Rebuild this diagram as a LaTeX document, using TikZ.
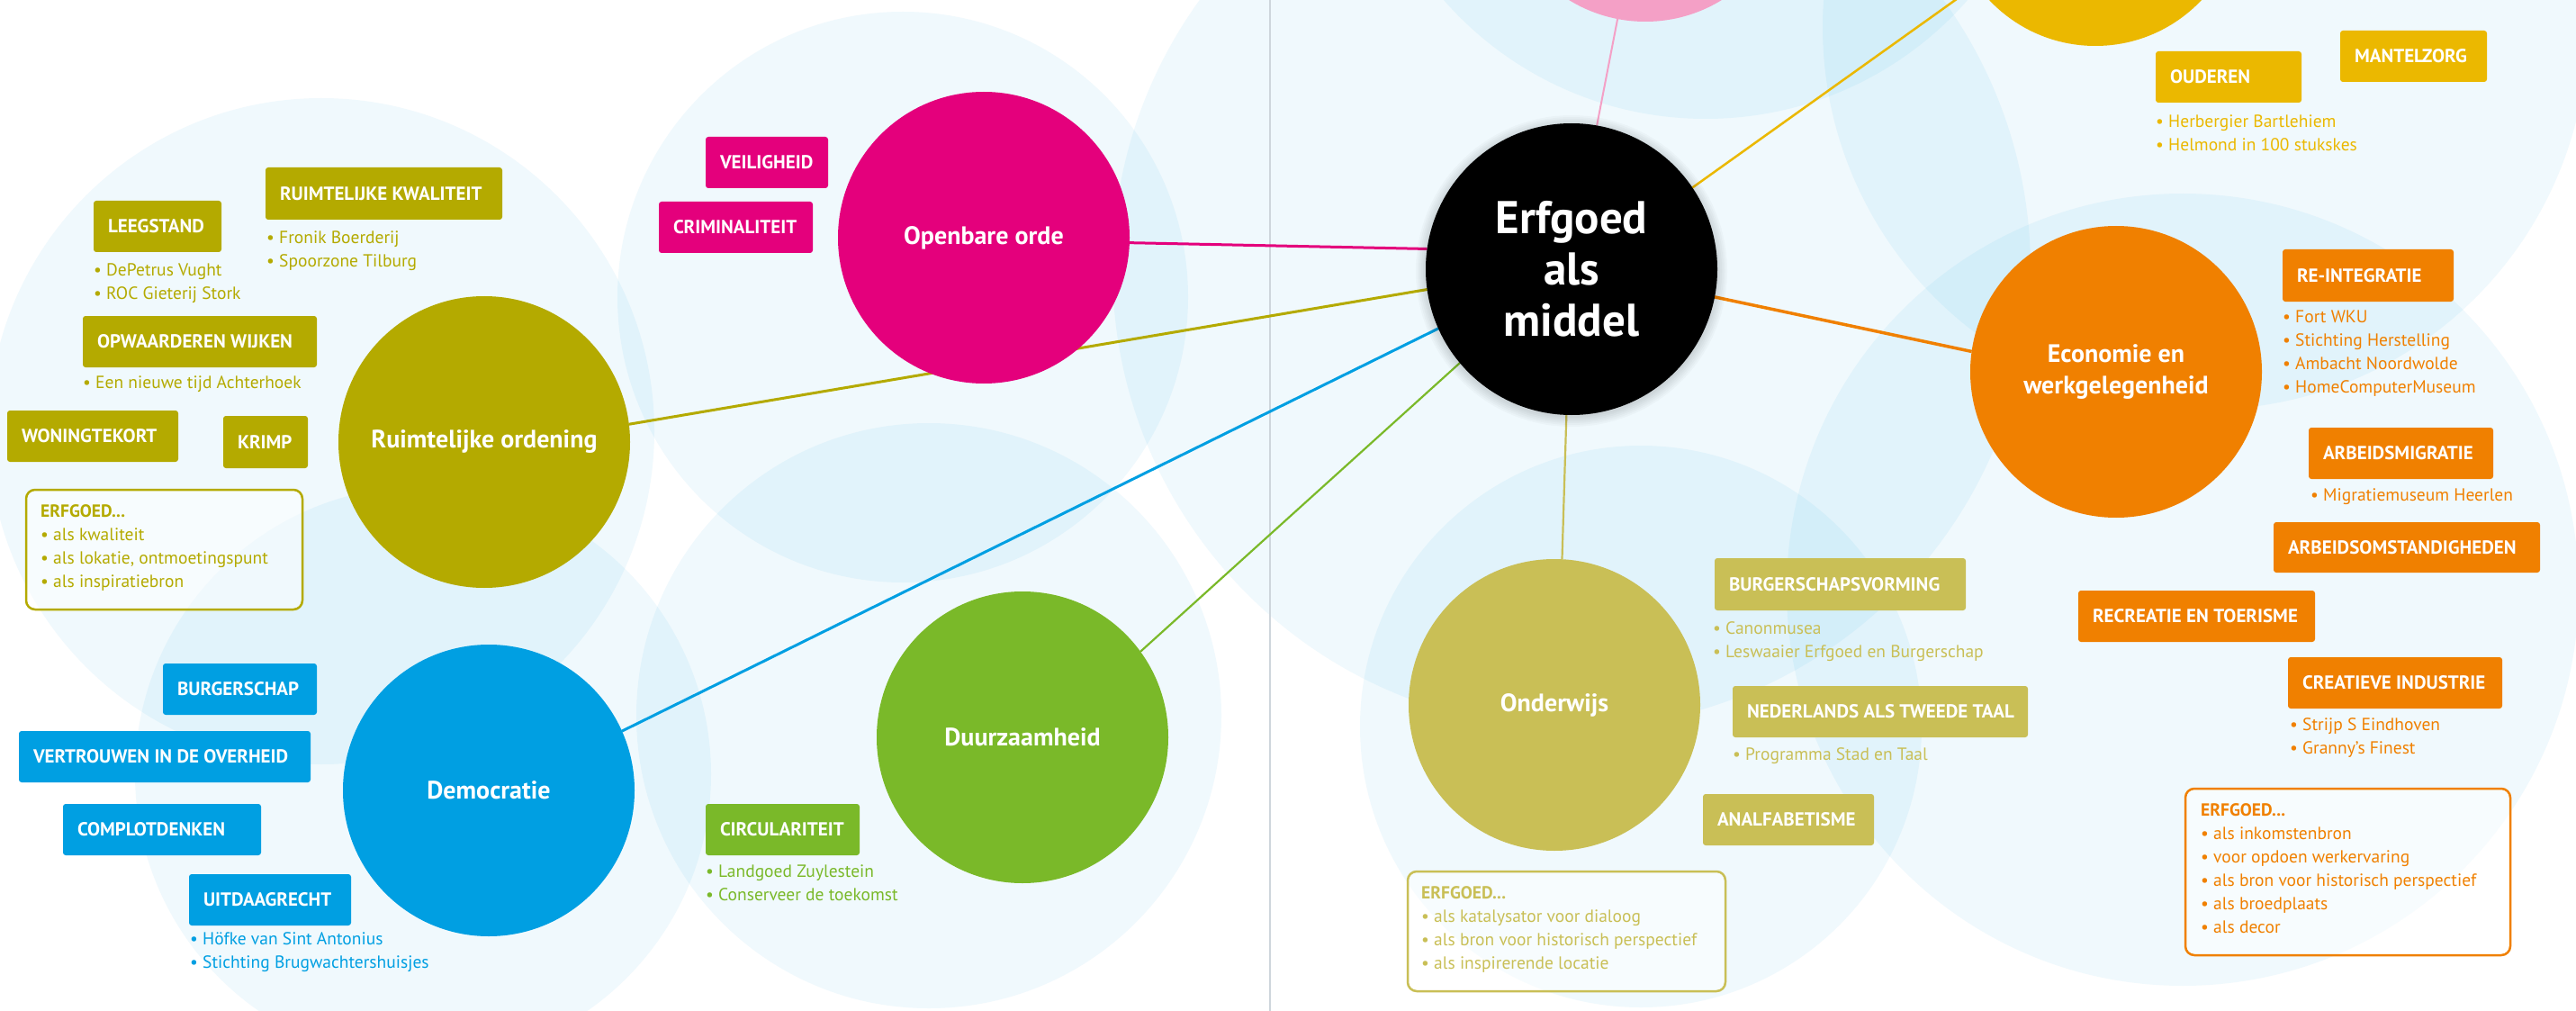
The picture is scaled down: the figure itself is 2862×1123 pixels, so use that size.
\documentclass[tikz,border=0pt]{standalone}
\usepackage{fontspec}
\setmainfont{PT Sans}
\pgfdeclarelayer{bg}
\pgfdeclarelayer{lines}
\pgfsetlayers{bg,lines,main}
\definecolor{cMag}{HTML}{E4007C}
\definecolor{cOli}{HTML}{B4AA00}
\definecolor{cBlu}{HTML}{009FE2}
\definecolor{cGrn}{HTML}{7AB929}
\definecolor{cOnd}{HTML}{C9BF56}
\definecolor{cOra}{HTML}{F08000}
\definecolor{cYel}{HTML}{EBB800}
\definecolor{cPnk}{HTML}{F4A0C6}
\definecolor{cHalo}{HTML}{009FE3}
\definecolor{cGrey}{HTML}{CED6DC}
\tikzset{
  topic/.style={circle, minimum size=324pt, inner sep=0pt, outer sep=0pt, text=white,
    font=\bfseries\fontsize{28}{35}\selectfont, align=center},
  halo/.style={fill=cHalo, fill opacity=0.06},
  tagbox/.style={rounded corners=3pt, text=white, font=\bfseries\fontsize{21}{24}\selectfont,
    inner xsep=16pt, inner ysep=0pt, outer sep=0pt},
  blist/.style={anchor=north west, font=\fontsize{19.5}{26}\selectfont, align=left, inner sep=0pt},
  erfframe/.style={draw, line width=2.5pt, rounded corners=10pt, fill=white, fill opacity=0.5,
    inner sep=0pt, outer sep=0pt, anchor=north west},
}
\newcommand\tagbox[7]{%
  \node[tagbox, fill=#2, anchor=north west, minimum height={#6-#4}] (#1) at (#3,#4)
    {\makebox[\dimexpr#5pt-#3pt-32pt\relax][l]{#7}};}
\newcommand\blist[5]{%
  \node[blist, text=#2] (#1) at (#3,{#4-8}) {#5};}
\newcommand\erfbox[6]{%
  \node[erfframe, draw=#2, minimum width={#5-#3}, minimum height={#6-#4}] (#1) at (#3,#4) {};}
\begin{document}
\begin{tikzpicture}[x=1pt,y=-1pt]
\useasboundingbox (0,0) rectangle (2862,1123);
\begin{pgfonlayer}{bg}
  \fill[white] (0,0) rectangle (2862,1123);
  \foreach \cx/\cy/\r in {357/479/370, 1003/330/317, 1032/795/325, 470/860/320,
      1746/299/510, 1823/807/312, 2425/655/440, 2450/30/425, 1895/-255/387}
    \fill[halo] (\cx,\cy) circle[radius=\r pt];
  \draw[cGrey, line width=2pt] (1411,0) -- (1411,1123);
\end{pgfonlayer}

% topic circles
\node[topic, fill=cPnk] (pink) at (1828,-138) {};
\node[topic, fill=cYel] (zorg) at (2328,-111) {};
\node[topic, fill=cMag] (openbare) at (1093,264) {Openbare orde};
\node[topic, fill=cOli] (ruimte) at (538,491) {Ruimtelijke ordening};
\node[topic, fill=cBlu] (demo) at (543,878) {Democratie};
\node[topic, fill=cGrn] (duurz) at (1136,819) {Duurzaamheid};
\node[topic, fill=cOnd] (onder) at (1727,783) {Onderwijs};
\node[topic, fill=cOra] (econ) at (2351,413) {Economie en\\werkgelegenheid};
\foreach \rr in {163,165,167,169,171,173}
  \fill[black, opacity=0.025] (1746,301) circle[radius=\rr pt];
\node[topic, fill=black, font=\bfseries\fontsize{51}{57}\selectfont] (hub) at (1746,299) {Erfgoed\\als\\middel};

\begin{pgfonlayer}{lines}
  \draw[cMag, line width=3pt] (openbare.358) -- (hub.172);
  \draw[cOli, line width=3pt] (ruimte.7) -- (hub.188);
  \draw[cBlu, line width=3pt] (demo.24) -- (hub.204);
  \draw[cGrn, line width=2.2pt] (duurz.36) -- (hub.220);
  \draw[cOnd, line width=2.2pt] (onder.87) -- (hub.268);
  \draw[cOra, line width=3.5pt] (hub.349) -- (econ.172);
  \draw[cYel, line width=2.5pt] (hub.34) -- (zorg);
  \draw[cPnk, line width=2pt] (hub.80) -- (pink);
\end{pgfonlayer}

% Ruimtelijke ordening
\tagbox{leeg}{cOli}{104}{223}{246}{280}{LEEGSTAND}
\tagbox{rkwal}{cOli}{295}{186}{558}{244}{RUIMTELIJKE KWALITEIT}
\tagbox{opw}{cOli}{92}{351}{352}{408}{OPWAARDEREN WIJKEN}
\tagbox{woning}{cOli}{8}{456}{198}{513}{WONINGTEKORT}
\tagbox{krimp}{cOli}{248}{462}{342}{520}{KRIMP}
\blist{lleeg}{cOli}{104}{300}{• DePetrus Vught\\• ROC Gieterij Stork}
\blist{lrkwal}{cOli}{296}{264}{• Fronik Boerderij\\• Spoorzone Tilburg}
\blist{lopw}{cOli}{92}{425}{• Een nieuwe tijd Achterhoek}
\erfbox{erfR}{cOli}{29}{544}{336}{677}
\blist{lerfR}{cOli}{45}{568}{\textbf{ERFGOED...}\\• als kwaliteit\\• als lokatie, ontmoetingspunt\\• als inspiratiebron}

% Openbare orde
\tagbox{veil}{cMag}{784}{152}{920}{209}{VEILIGHEID}
\tagbox{crim}{cMag}{732}{224}{903}{281}{CRIMINALITEIT}

% Democratie
\tagbox{burg}{cBlu}{181}{737}{352}{794}{BURGERSCHAP}
\tagbox{vertr}{cBlu}{21}{812}{345}{869}{VERTROUWEN IN DE OVERHEID}
\tagbox{compl}{cBlu}{70}{893}{290}{950}{COMPLOTDENKEN}
\tagbox{uitd}{cBlu}{210}{971}{390}{1028}{UITDAAGRECHT}
\blist{luitd}{cBlu}{211}{1043}{• Höfke van Sint Antonius\\• Stichting Brugwachtershuisjes}

% Duurzaamheid
\tagbox{circ}{cGrn}{784}{893}{955}{950}{CIRCULARITEIT}
\blist{lcirc}{cGrn}{784}{968}{• Landgoed Zuylestein\\• Conserveer de toekomst}

% Zorg (yellow)
\tagbox{oud}{cYel}{2395}{57}{2557}{114}{OUDEREN}
\tagbox{mantel}{cYel}{2600}{34}{2763}{91}{MANTELZORG}
\blist{loud}{cYel}{2395}{135}{• Herbergier Bartlehiem\\• Helmond in 100 stukskes}

% Economie
\tagbox{reint}{cOra}{2536}{277}{2726}{335}{RE-INTEGRATIE}
\blist{lreint}{cOra}{2536}{353}{• Fort WKU\\• Stichting Herstelling\\• Ambacht Noordwolde\\• HomeComputerMuseum}
\tagbox{amig}{cOra}{2565}{475}{2770}{532}{ARBEIDSMIGRATIE}
\blist{lamig}{cOra}{2567}{550}{• Migratiemuseum Heerlen}
\tagbox{aoms}{cOra}{2526}{580}{2822}{636}{ARBEIDSOMSTANDIGHEDEN}
\tagbox{recr}{cOra}{2309}{656}{2572}{713}{RECREATIE EN TOERISME}
\tagbox{crea}{cOra}{2542}{730}{2780}{787}{CREATIEVE INDUSTRIE}
\blist{lcrea}{cOra}{2544}{805}{• Strijp S Eindhoven\\• Granny's Finest}
\erfbox{erfE}{cOra}{2428}{876}{2789}{1061}
\blist{lerfE}{cOra}{2445}{900}{\textbf{ERFGOED...}\\• als inkomstenbron\\• voor opdoen werkervaring\\• als bron voor historisch perspectief\\• als broedplaats\\• als decor}

% Onderwijs
\tagbox{bvorm}{cOnd}{1905}{620}{2184}{678}{BURGERSCHAPSVORMING}
\blist{lbvorm}{cOnd}{1903}{698}{• Canonmusea\\• Leswaaier Erfgoed en Burgerschap}
\tagbox{nt2}{cOnd}{1925}{762}{2253}{819}{NEDERLANDS ALS TWEEDE TAAL}
\blist{lnt2}{cOnd}{1925}{838}{• Programma Stad en Taal}
\tagbox{analf}{cOnd}{1892}{882}{2082}{939}{ANALFABETISME}
\erfbox{erfO}{cOnd}{1564}{968}{1917}{1101}
\blist{lerfO}{cOnd}{1579}{992}{\textbf{ERFGOED...}\\• als katalysator voor dialoog\\• als bron voor historisch perspectief\\• als inspirerende locatie}
\end{tikzpicture}
\end{document}
